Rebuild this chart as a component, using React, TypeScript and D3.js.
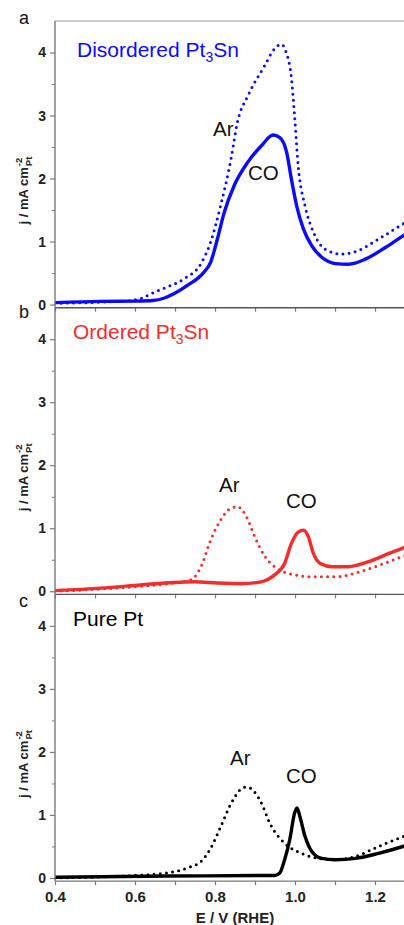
import React, { useEffect, useRef } from 'react';
import * as d3 from 'd3';

type Pt = [number, number];

// E / V (RHE) vs j / mA cm-2
const disorderedCO: Pt[] = [
  [0.4, 0.03], [0.513, 0.05], [0.6, 0.055], [0.645, 0.065], [0.672, 0.1], [0.697, 0.17],
  [0.73, 0.3], [0.772, 0.51], [0.789, 0.67], [0.806, 1.04], [0.823, 1.46], [0.848, 1.89],
  [0.882, 2.26], [0.916, 2.52], [0.945, 2.69], [0.962, 2.65], [0.979, 2.42], [0.991, 1.99],
  [1.004, 1.57], [1.021, 1.2], [1.042, 0.93], [1.067, 0.75], [1.101, 0.65], [1.134, 0.64],
  [1.176, 0.72], [1.227, 0.91], [1.28, 1.13], [1.3, 1.2],
];
const disorderedAr: Pt[] = [
  [0.4, 0.02], [0.56, 0.05], [0.597, 0.07], [0.62, 0.11], [0.639, 0.17], [0.681, 0.28],
  [0.723, 0.41], [0.765, 0.65], [0.789, 0.99], [0.814, 1.57], [0.84, 2.31], [0.856, 2.89],
  [0.882, 3.31], [0.924, 3.79], [0.949, 4.06], [0.966, 4.13], [0.978, 4.0], [0.991, 3.6],
  [0.999, 2.99], [1.008, 2.2], [1.025, 1.57], [1.046, 1.15], [1.075, 0.88], [1.117, 0.8],
  [1.159, 0.86], [1.209, 1.04], [1.28, 1.32], [1.3, 1.4],
];
const orderedCO: Pt[] = [
  [0.4, 0.01], [0.513, 0.05], [0.614, 0.1], [0.697, 0.14], [0.748, 0.15], [0.806, 0.13],
  [0.865, 0.12], [0.915, 0.15], [0.949, 0.26], [0.974, 0.44], [0.991, 0.76], [1.008, 0.94],
  [1.021, 0.97], [1.033, 0.87], [1.046, 0.6], [1.063, 0.44], [1.092, 0.39], [1.134, 0.39],
  [1.184, 0.47], [1.235, 0.6], [1.28, 0.71], [1.3, 0.76],
];
const orderedAr: Pt[] = [
  [0.4, 0.0], [0.597, 0.07], [0.697, 0.13], [0.739, 0.18], [0.765, 0.39], [0.789, 0.81],
  [0.814, 1.13], [0.84, 1.32], [0.856, 1.34], [0.878, 1.19], [0.899, 0.87], [0.924, 0.56],
  [0.958, 0.35], [0.991, 0.27], [1.042, 0.23], [1.101, 0.23], [1.168, 0.32], [1.226, 0.45],
  [1.28, 0.58], [1.3, 0.63],
];
const pureCO: Pt[] = [
  [0.4, 0.01], [0.681, 0.03], [0.949, 0.04], [0.962, 0.08], [0.974, 0.29], [0.987, 0.61],
  [0.999, 1.03], [1.005, 1.11], [1.012, 0.98], [1.025, 0.66], [1.042, 0.42], [1.067, 0.31],
  [1.101, 0.29], [1.151, 0.31], [1.209, 0.39], [1.28, 0.52], [1.3, 0.56],
];
const pureAr: Pt[] = [
  [0.4, 0.0], [0.597, 0.04], [0.681, 0.08], [0.731, 0.16], [0.765, 0.26], [0.789, 0.47],
  [0.814, 0.81], [0.84, 1.18], [0.865, 1.41], [0.876, 1.44], [0.886, 1.43], [0.911, 1.25],
  [0.941, 0.82], [0.974, 0.55], [1.016, 0.39], [1.058, 0.31], [1.101, 0.29], [1.151, 0.34],
  [1.209, 0.5], [1.28, 0.68], [1.3, 0.73],
];

const panelLetters = ['a', 'b', 'c'];
const panelTitles = [
  ['Disordered Pt', '3', 'Sn'],
  ['Ordered Pt', '3', 'Sn'],
  ['Pure Pt', '', ''],
];
const panelColors = ['#0a0aff', '#f42c2c', '#000000'];
const yTicks = [0, 1, 2, 3, 4];
const xTickLabels = [0.4, 0.6, 0.8, 1.0, 1.2];

const W = 404;
const H = 925;
const FONT = '"Liberation Sans", Arial, sans-serif';

const App: React.FC = () => {
  const ref = useRef<SVGSVGElement | null>(null);

  useEffect(() => {
    if (!ref.current) return;
    const svg = d3.select(ref.current);
    svg.selectAll('*').remove();

    const left = 55;
    const panelH = 286.7;
    const tops = [21, 307.7, 594.4];
    const x = d3.scaleLinear().domain([0.4, 1.3]).range([left, 415]);

    const panels = [
      { co: disorderedCO, ar: disorderedAr, letterY: 24, titleX: 77, titleY: 35.7,
        arPos: [0.795, 2.67], coPos: [0.8825, 1.98] },
      { co: orderedCO, ar: orderedAr, letterY: 318, titleX: 73, titleY: 31.6,
        arPos: [0.81, 1.58], coPos: [0.9775, 1.32] },
      { co: pureCO, ar: pureAr, letterY: 607, titleX: 73, titleY: 31.6,
        arPos: [0.8375, 1.79], coPos: [0.9775, 1.51] },
    ];

    const axisColor = '#7a7a7a';

    panels.forEach((p, i) => {
      const top = tops[i];
      const y = d3.scaleLinear().domain([-0.05, 4.5]).range([top + panelH, top]);
      const g = svg.append('g');
      const color = panelColors[i];

      const clipId = `clip${i}`;
      svg.append('clipPath').attr('id', clipId)
        .append('rect').attr('x', left).attr('y', top).attr('width', W - left).attr('height', panelH);

      const line = d3.line<Pt>().x(d => x(d[0])).y(d => y(d[1])).curve(d3.curveMonotoneX);

      const curves = g.append('g').attr('clip-path', `url(#${clipId})`);
      curves.append('path').datum(p.ar)
        .attr('d', line).attr('fill', 'none').attr('stroke', color)
        .attr('stroke-width', 3).attr('stroke-linecap', 'round')
        .attr('stroke-dasharray', '0 6.2');
      curves.append('path').datum(p.co)
        .attr('d', line).attr('fill', 'none').attr('stroke', color)
        .attr('stroke-width', 3.4).attr('stroke-linejoin', 'round');

      // y axis: majors + minors
      const yMajor = g.append('g').attr('transform', `translate(${left},0)`)
        .call(d3.axisLeft(y).tickValues(yTicks).tickSize(5).tickPadding(4).tickFormat(d3.format('d')));
      yMajor.select('.domain').remove();
      yMajor.selectAll('line').attr('stroke', axisColor).attr('stroke-width', 1.2);
      yMajor.selectAll('text').attr('font-family', FONT).attr('font-size', 14)
        .attr('font-weight', 'bold').attr('fill', '#222');
      const yMinor = g.append('g').attr('transform', `translate(${left},0)`)
        .call(d3.axisLeft(y).tickValues([0.5, 1.5, 2.5, 3.5]).tickSize(3).tickFormat(() => ''));
      yMinor.select('.domain').remove();
      yMinor.selectAll('line').attr('stroke', axisColor).attr('stroke-width', 1);

      // bottom axis
      const bottom = top + panelH;
      const xAxis = g.append('g').attr('transform', `translate(0,${bottom})`)
        .call(d3.axisBottom(x).tickValues(d3.range(4, 13).map(v => v / 10)).tickSize(4)
          .tickPadding(6)
          .tickFormat(d => (i === 2 && xTickLabels.some(t => Math.abs(t - +d) < 1e-6) ? d3.format('.1f')(+d) : '')));
      xAxis.select('.domain').remove();
      xAxis.selectAll('line').attr('stroke', axisColor).attr('stroke-width', 1.2);
      xAxis.selectAll('text').attr('font-family', FONT).attr('font-size', 15)
        .attr('font-weight', 'bold').attr('fill', '#222');

      g.append('line').attr('x1', left).attr('x2', W).attr('y1', bottom).attr('y2', bottom)
        .attr('stroke', i === 2 ? axisColor : '#555').attr('stroke-width', 1.4);
      if (i === 0) {
        g.append('line').attr('x1', left).attr('x2', W).attr('y1', top).attr('y2', top)
          .attr('stroke', '#999').attr('stroke-width', 1.2);
      }
      g.append('line').attr('x1', left).attr('x2', left).attr('y1', top).attr('y2', bottom)
        .attr('stroke', axisColor).attr('stroke-width', 1.4);

      // panel letter
      g.append('text').attr('x', 19).attr('y', p.letterY).text(panelLetters[i])
        .attr('font-family', FONT).attr('font-size', 18).attr('fill', '#111');

      // panel title
      const [main, sub, tail] = panelTitles[i];
      const title = g.append('text').attr('x', p.titleX).attr('y', top + p.titleY)
        .attr('font-family', FONT).attr('font-size', 21).attr('fill', color);
      title.append('tspan').text(main);
      if (sub) {
        title.append('tspan').attr('dy', 5).attr('font-size', 14).text(sub);
        title.append('tspan').attr('dy', -5).text(tail);
      }

      // curve annotations
      g.append('text').attr('x', x(p.arPos[0])).attr('y', y(p.arPos[1])).text('Ar')
        .attr('font-family', FONT).attr('font-size', 20.5).attr('fill', '#111');
      g.append('text').attr('x', x(p.coPos[0])).attr('y', y(p.coPos[1])).text('CO')
        .attr('font-family', FONT).attr('font-size', 20.5).attr('fill', '#111');

      // y label
      const lab = g.append('g').attr('transform', `translate(28,${y(1.27)}) rotate(-90)`);
      const mainText = lab.append('text').attr('x', 0).attr('y', 0).text('j / mA cm')
        .attr('font-family', FONT).attr('font-size', 13).attr('font-weight', 'bold').attr('fill', '#222');
      const L = (mainText.node() as SVGTextElement).getComputedTextLength();
      lab.append('text').attr('x', L + 1).attr('y', -6).text('-2')
        .attr('font-family', FONT).attr('font-size', 9.5).attr('font-weight', 'bold').attr('fill', '#222');
      lab.append('text').attr('x', L + 1).attr('y', 3.5).text('Pt')
        .attr('font-family', FONT).attr('font-size', 9.5).attr('font-weight', 'bold').attr('fill', '#222');
    });

    // x axis title
    svg.append('text').attr('x', x(0.85)).attr('y', 923).attr('text-anchor', 'middle')
      .text('E / V (RHE)').attr('font-family', FONT).attr('font-size', 15)
      .attr('font-weight', 'bold').attr('fill', '#222');
  }, []);

  return (
    <svg
      ref={ref}
      width={W}
      height={H}
      style={{ position: 'absolute', left: 0, top: 0, background: '#fff' }}
    />
  );
};

export default App;
